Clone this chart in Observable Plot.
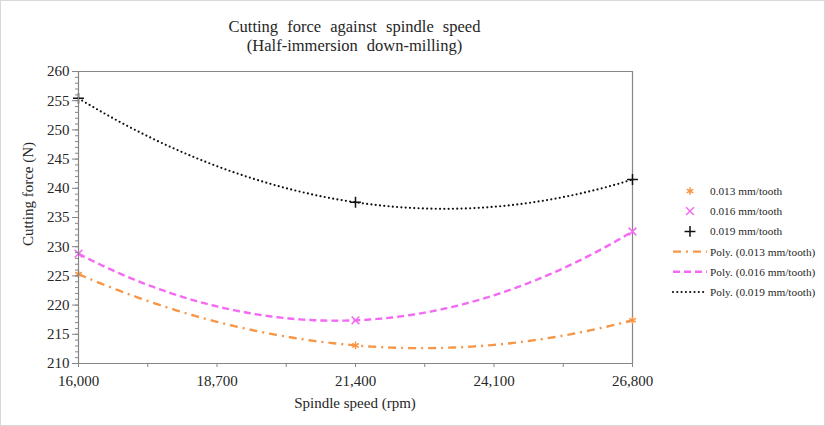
<!DOCTYPE html>
<html>
<head>
<meta charset="utf-8">
<script src="https://cdn.jsdelivr.net/npm/d3@7"></script>
<script src="https://cdn.jsdelivr.net/npm/@observablehq/plot@0.6"></script>
<style>
  body { margin: 0; background: #fff; }
  #wrap { position: relative; width: 823px; height: 424px; border: 1px solid #d9d9d9; background: #fff; overflow: hidden; font-family: "Liberation Serif", "DejaVu Serif", serif; color: #262626; }
  #wrap svg { position: absolute; }
  .title { position: absolute; left: 0; top: 16px; width: 707px; text-align: center; font-size: 16.5px; line-height: 19px; word-spacing: 5px; }
  .ylab { position: absolute; left: 27px; top: 193px; transform: translate(-50%, -50%) rotate(-90deg); font-size: 15px; white-space: nowrap; }
  .xlab { position: absolute; left: 354px; top: 402px; transform: translate(-50%, -50%); font-size: 15px; white-space: nowrap; }
</style>
</head>
<body>
<div id="wrap">
  <div class="title">Cutting force against spindle speed<br>(Half-immersion down-milling)</div>
  <div class="ylab">Cutting force (N)</div>
  <div class="xlab">Spindle speed (rpm)</div>
</div>
<script>
// ---- data ----
const speeds = [16000, 21400, 26800];
const seriesNames = ["0.013 mm/tooth", "0.016 mm/tooth", "0.019 mm/tooth"];
const force013 = [225.3, 213.1, 217.4];
const force016 = [228.8, 217.4, 232.6];
const force019 = [255.4, 237.6, 241.5];
const xTicks = [16000, 18700, 21400, 24100, 26800];
const xMinorTicks = [17350, 20050, 22750, 25450];
const yTicks = [210, 215, 220, 225, 230, 235, 240, 245, 250, 255, 260];
const yMinorTicks = d3.range(210, 261, 1);

const FONT = "'Liberation Serif', 'DejaVu Serif', serif";
const colors = ["#f79646", "#f46af4", "#111111"];
const symbols = ["asterisk", "times", "plus"];
const d3symbols = {asterisk: d3.symbolAsterisk, times: d3.symbolTimes, plus: d3.symbolPlus};
const dashes = ["8,5,2,5", "7,4", "0,4.3"];
const widths = [2.4, 2.4, 2.2];
const forces = [force013, force016, force019];

const points = seriesNames.flatMap((s, i) => speeds.map((x, j) => ({series: s, x, y: forces[i][j]})));

// 2nd-order polynomial trendline (least squares, as in Excel "Poly." trendline)
function polyfit2(xs, ys) {
  const x0 = d3.mean(xs), sc = 1000;
  const t = xs.map(x => (x - x0) / sc);
  const S = k => d3.sum(t, v => v ** k);
  const T = k => d3.sum(t, (v, i) => v ** k * ys[i]);
  const A = [[S(0), S(1), S(2)], [S(1), S(2), S(3)], [S(2), S(3), S(4)]];
  const B = [T(0), T(1), T(2)];
  const det = m => m[0][0]*(m[1][1]*m[2][2]-m[1][2]*m[2][1]) - m[0][1]*(m[1][0]*m[2][2]-m[1][2]*m[2][0]) + m[0][2]*(m[1][0]*m[2][1]-m[1][1]*m[2][0]);
  const D = det(A);
  const coef = [0, 1, 2].map(c => det(A.map((row, r) => row.map((v, k) => k === c ? B[r] : v))) / D);
  return x => { const u = (x - x0) / sc; return coef[0] + coef[1]*u + coef[2]*u*u; };
}
const xs = d3.range(0, 201).map(i => speeds[0] + (speeds[2] - speeds[0]) * i / 200);
const trends = seriesNames.map((s, i) => {
  const f = polyfit2(speeds, forces[i]);
  return xs.map(x => ({series: s, x, y: f(x)}));
});

const axisColor = "#868686";
const chart = Plot.plot({
  width: 640, height: 426,
  marginLeft: 77, marginRight: 9, marginTop: 70, marginBottom: 64,
  style: {fontFamily: FONT, fontSize: "15px", color: "#262626", background: "transparent", overflow: "visible"},
  x: {domain: [16000, 26800], axis: null},
  y: {domain: [210, 260], axis: null},
  marks: [
    Plot.ruleY([260], {stroke: axisColor, strokeWidth: 1.2}),
    Plot.ruleX([26800], {stroke: axisColor, strokeWidth: 1.2}),
    ...trends.map((d, i) => Plot.line(d, {x: "x", y: "y", stroke: colors[i], strokeWidth: widths[i], strokeDasharray: dashes[i], strokeLinecap: i === 2 ? "round" : "butt", curve: "linear"})),
    ...seriesNames.map((s, i) => Plot.dot(points.filter(p => p.series === s), {x: "x", y: "y", symbol: symbols[i], stroke: colors[i], r: 3.6, strokeWidth: 1.5})),
    Plot.ruleX([16000], {stroke: axisColor, strokeWidth: 1.2}),
    Plot.ruleY([210], {stroke: axisColor, strokeWidth: 1.2}),
    Plot.axisY(yMinorTicks, {tickSize: 3, tickFormat: () => "", stroke: axisColor, label: null}),
    Plot.axisY(yTicks, {tickSize: 6, tickPadding: 3, stroke: axisColor, label: null, fontSize: 15, fill: "#262626"}),
    Plot.axisX([...xTicks, ...xMinorTicks], {tickSize: 4, tickFormat: () => "", stroke: axisColor, label: null}),
    Plot.axisX(xTicks, {tickSize: 0, tickPadding: 12, tickFormat: d3.format(","), label: null, fontSize: 15, fill: "#262626"})
  ]
});
chart.style.left = "0px";
chart.style.top = "0px";
document.getElementById("wrap").appendChild(chart);

// legend
const leg = d3.create("svg").attr("width", 165).attr("height", 130)
  .style("left", "660px").style("top", "175px");
const rowY = k => 15 + k * 20.2;
seriesNames.forEach((s, i) => {
  leg.append("path")
    .attr("transform", `translate(29,${rowY(i)})`)
    .attr("d", d3.symbol(d3symbols[symbols[i]], Math.PI * 3.6 * 3.6)())
    .attr("fill", "none").attr("stroke", colors[i]).attr("stroke-width", 1.5);
  leg.append("text").attr("x", 49).attr("y", rowY(i)).attr("dy", "0.35em")
    .attr("font-size", 11.3).style("font-family", FONT).attr("fill", "#262626").text(s);
});
seriesNames.forEach((s, i) => {
  const y = rowY(i + 3);
  leg.append("line").attr("x1", 12).attr("x2", 46).attr("y1", y).attr("y2", y)
    .attr("stroke", colors[i]).attr("stroke-width", widths[i]).attr("stroke-dasharray", dashes[i])
    .attr("stroke-linecap", i === 2 ? "round" : "butt");
  leg.append("text").attr("x", 49).attr("y", y).attr("dy", "0.35em")
    .attr("font-size", 11.3).style("font-family", FONT).attr("fill", "#262626").text(`Poly. (${s})`);
});
document.getElementById("wrap").appendChild(leg.node());
</script>
</body>
</html>
